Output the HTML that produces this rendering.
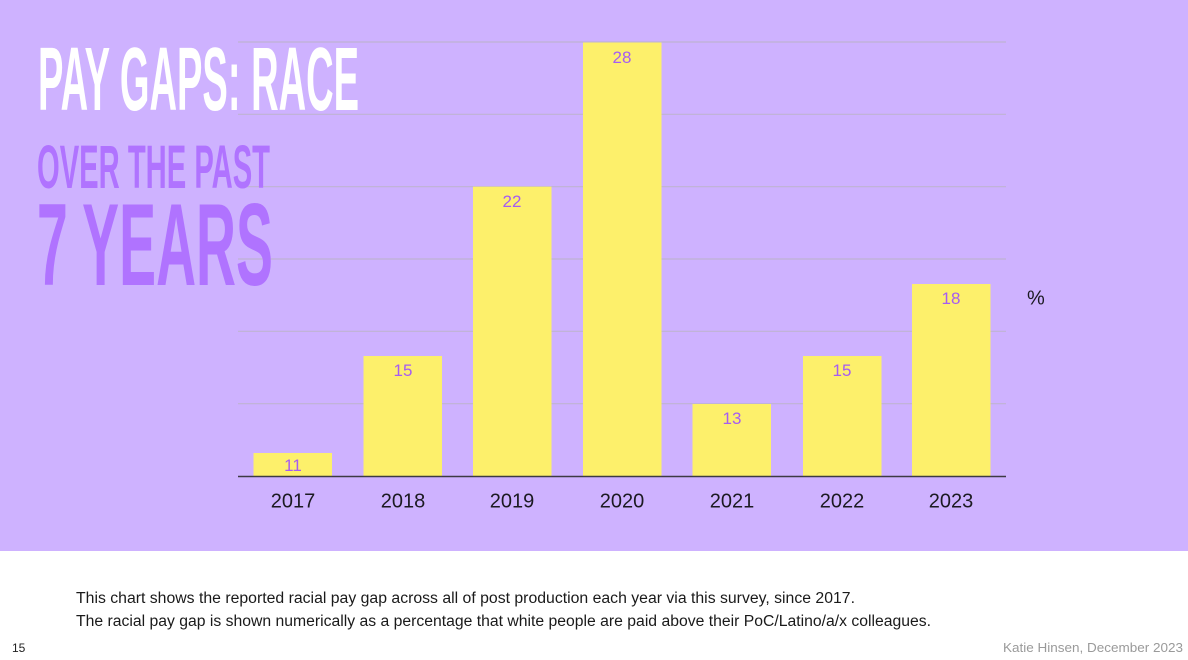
<!DOCTYPE html>
<html>
<head>
<meta charset="utf-8">
<style>
  html,body{margin:0;padding:0;background:#ffffff;}
  body{width:1188px;height:660px;overflow:hidden;}
  svg{display:block;}
</style>
</head>
<body>
<svg width="1188" height="660" viewBox="0 0 1188 660" xmlns="http://www.w3.org/2000/svg">
  <rect x="0" y="0" width="1188" height="660" fill="#ffffff"/>
  <rect x="0" y="0" width="1188" height="551" fill="#ceb2ff"/>

  <!-- gridlines -->
  <g stroke="#bfb3d2" stroke-width="1.2">
    <line x1="238" y1="42" x2="1006" y2="42"/>
    <line x1="238" y1="114.3" x2="1006" y2="114.3"/>
    <line x1="238" y1="186.7" x2="1006" y2="186.7"/>
    <line x1="238" y1="259" x2="1006" y2="259"/>
    <line x1="238" y1="331.3" x2="1006" y2="331.3"/>
    <line x1="238" y1="403.7" x2="1006" y2="403.7"/>
  </g>

  <!-- bars -->
  <g fill="#fdf06b">
    <rect x="253.5" y="453" width="78.5" height="23.5"/>
    <rect x="363.5" y="356" width="78.5" height="120.5"/>
    <rect x="473" y="186.7" width="78.5" height="289.8"/>
    <rect x="583" y="42.5" width="78.5" height="434"/>
    <rect x="692.5" y="404" width="78.5" height="72.5"/>
    <rect x="803" y="356" width="78.5" height="120.5"/>
    <rect x="912" y="284" width="78.5" height="192.5"/>
  </g>

  <!-- axis -->
  <line x1="238" y1="476.5" x2="1006" y2="476.5" stroke="#3d3a44" stroke-width="1.4"/>

  <!-- value labels -->
  <g font-family="'Liberation Sans', 'DejaVu Sans', sans-serif" font-size="17" fill="#a65cf2" text-anchor="middle">
    <text x="293" y="471">11</text>
    <text x="403" y="376">15</text>
    <text x="512" y="207">22</text>
    <text x="622" y="63">28</text>
    <text x="732" y="424">13</text>
    <text x="842" y="376">15</text>
    <text x="951" y="304">18</text>
  </g>

  <!-- year labels -->
  <g font-family="'Liberation Sans', 'DejaVu Sans', sans-serif" font-size="20" fill="#1c1a22" text-anchor="middle">
    <text x="293" y="507.5">2017</text>
    <text x="403" y="507.5">2018</text>
    <text x="512" y="507.5">2019</text>
    <text x="622" y="507.5">2020</text>
    <text x="732" y="507.5">2021</text>
    <text x="842" y="507.5">2022</text>
    <text x="951" y="507.5">2023</text>
  </g>

  <text x="1027" y="304.5" font-family="'Liberation Sans', sans-serif" font-size="20" fill="#1c1a22">%</text>

  <!-- titles -->
  <text x="38" y="110" font-family="'Liberation Sans Narrow', 'Liberation Sans', sans-serif" font-weight="bold" font-size="90" fill="#ffffff" textLength="321" lengthAdjust="spacingAndGlyphs">PAY GAPS: RACE</text>
  <text x="37" y="188" font-family="'Liberation Sans Narrow', 'Liberation Sans', sans-serif" font-weight="bold" font-size="61" fill="#b073ff" textLength="233" lengthAdjust="spacingAndGlyphs">OVER THE PAST</text>
  <text x="37" y="285" font-family="'Liberation Sans Narrow', 'Liberation Sans', sans-serif" font-weight="bold" font-size="117" fill="#b073ff" textLength="236" lengthAdjust="spacingAndGlyphs">7 YEARS</text>

  <!-- footer text -->
  <g font-family="'Liberation Sans', sans-serif" font-size="15.5" fill="#1a1a1a">
    <text x="76" y="603" textLength="779" lengthAdjust="spacingAndGlyphs">This chart shows the reported racial pay gap across all of post production each year via this survey, since 2017.</text>
    <text x="76" y="626" textLength="855" lengthAdjust="spacingAndGlyphs">The racial pay gap is shown numerically as a percentage that white people are paid above their PoC/Latino/a/x colleagues.</text>
  </g>
  <text x="12" y="652" font-family="'Liberation Sans', sans-serif" font-size="12" fill="#222222">15</text>
  <text x="1183" y="652" font-family="'Liberation Sans', sans-serif" font-size="13" fill="#9a9a9a" text-anchor="end" textLength="180" lengthAdjust="spacingAndGlyphs">Katie Hinsen, December 2023</text>
</svg>
</body>
</html>
